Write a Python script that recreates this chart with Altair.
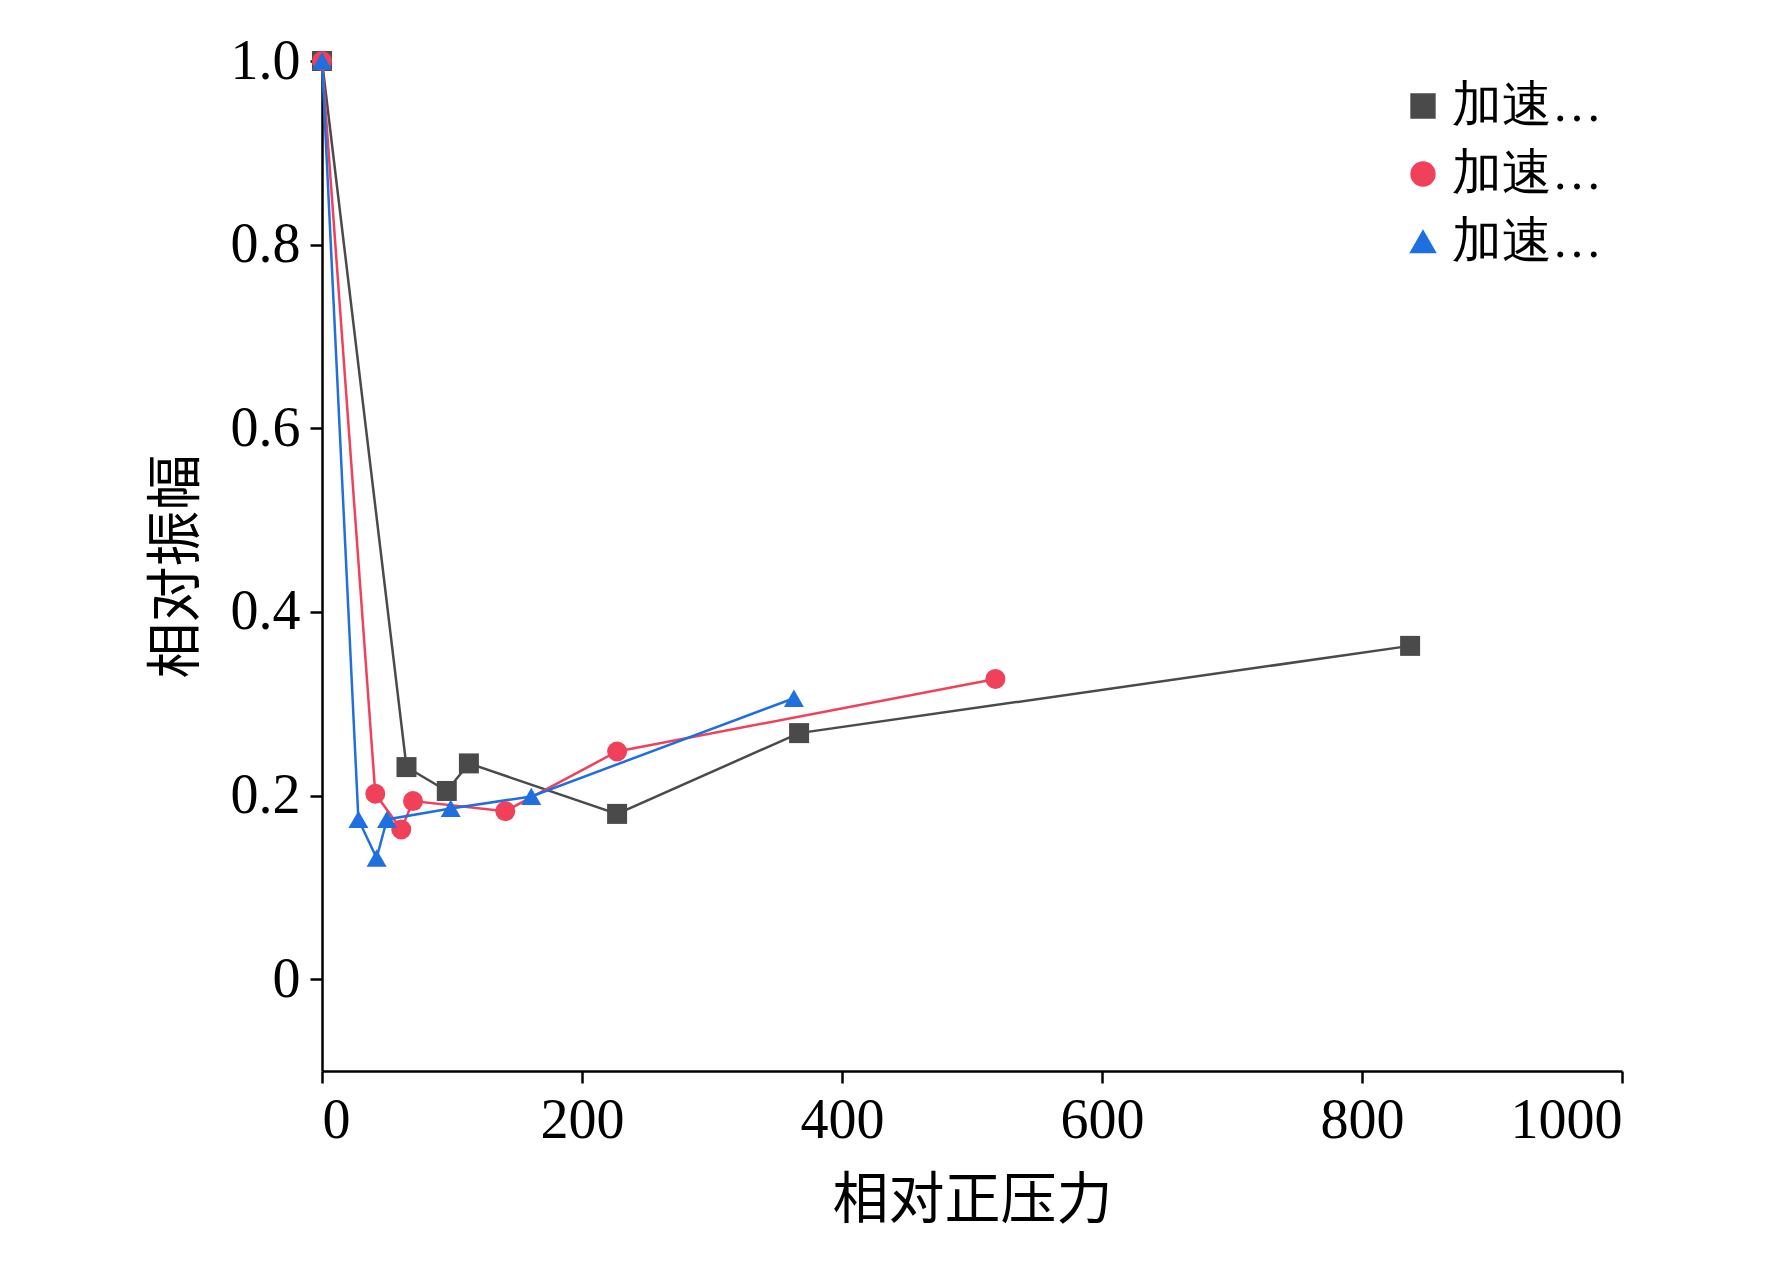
import pandas as pd
import altair as alt

# series
x1 = [0, 65, 96, 113, 227, 367, 837]
y1 = [1.0, 0.231, 0.205, 0.235, 0.18, 0.268, 0.363]
x2 = [0, 41, 61, 70, 141, 227, 518]
y2 = [1.0, 0.202, 0.163, 0.194, 0.183, 0.248, 0.327]
x3 = [0, 28, 42, 50, 99, 161, 363]
y3 = [1.0, 0.174, 0.132, 0.174, 0.186, 0.199, 0.306]
names = ["加速度为0.65g", "加速度为1.05g", "加速度为1.50g"]
colors = ["#4a4a4a", "#f0405a", "#1f6fe0"]
shapes = ["square", "circle", "triangle-up"]

rows = []
for n, xs, ys in zip(names, [x1, x2, x3], [y1, y2, y3]):
    for i, (a, b) in enumerate(zip(xs, ys)):
        rows.append({"s": n, "x": a, "y": b, "i": i})
df = pd.DataFrame(rows)

font = "Liberation Serif"
X = alt.X("x:Q", title="相对正压力", scale=alt.Scale(domain=[0, 1000], nice=False),
          axis=alt.Axis(values=[0, 200, 400, 600, 800, 1000], grid=False, format="d"))
Y = alt.Y("y:Q", title="相对振幅", scale=alt.Scale(domain=[-0.1, 1.0], nice=False, zero=False),
          axis=alt.Axis(values=[0, 0.2, 0.4, 0.6, 0.8, 1.0], grid=False,
                        labelExpr="datum.value == 0 ? '0' : format(datum.value, '.1f')"))
leg = alt.Legend(title=None, orient="top-right", symbolSize=500,
                 labelFontSize=50, labelFont=font, rowPadding=18,
                 symbolStrokeWidth=3, offset=20)
col = alt.Color("s:N", scale=alt.Scale(domain=names, range=colors), legend=leg)
shp = alt.Shape("s:N", scale=alt.Scale(domain=names, range=shapes), legend=leg)

lines = alt.Chart(df).mark_line(strokeWidth=2.5).encode(x=X, y=Y, color=col, order="i:Q", detail="s:N")
pts = alt.Chart(df).mark_point(filled=True, size=400, opacity=1).encode(x=X, y=Y, color=col, shape=shp)

chart = (lines + pts).properties(
    width=1300, height=1010, padding={"left": 140, "top": 25, "right": 10, "bottom": 5}
).configure_view(stroke=None).configure_axis(
    labelFont=font, titleFont=font, labelFontSize=56, titleFontSize=56, titleFontWeight="normal",
    domainColor="black", domainWidth=2.5, tickColor="black", tickWidth=2.5, tickSize=12,
    labelColor="black", titleColor="black", labelPadding=10, titlePadding=25
).configure_axisY(titleFont="Noto Sans CJK SC").configure_axisX(titleFont="Noto Sans CJK SC")

chart.save("out.html", embed_options={"renderer": "svg", "actions": False})
